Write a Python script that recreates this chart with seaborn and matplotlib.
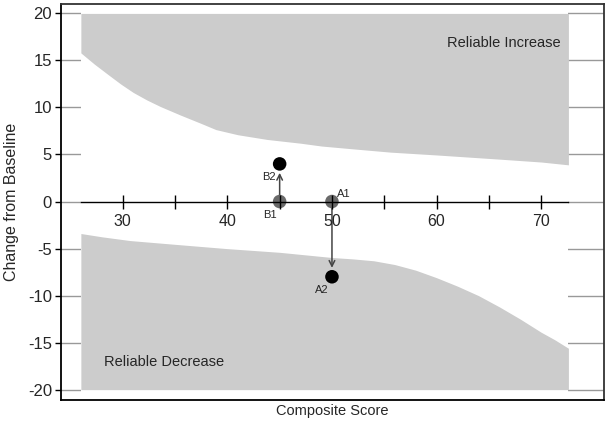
import matplotlib
matplotlib.use('Agg')
import matplotlib.pyplot as plt
import seaborn as sns
import pandas as pd

# bordas das regioes de mudanca confiavel
upper_x = [26, 27.3, 28.6, 29.8, 31, 32.3, 33.6, 35.5, 37.5, 38.9, 41, 43.8, 47, 49, 52, 55.6, 60, 66.1, 70, 72.6]
upper_y = [15.8, 14.6, 13.5, 12.5, 11.6, 10.8, 10.1, 9.2, 8.3, 7.65, 7.1, 6.6, 6.2, 5.9, 5.6, 5.25, 4.95, 4.5, 4.2, 3.9]
lower_x = [26, 28, 30.7, 35, 39.9, 45, 50, 52, 54, 56, 58, 60, 62, 64, 66, 68, 70, 71.3, 72.6]
lower_y = [-3.4, -3.75, -4.15, -4.55, -5.0, -5.4, -5.95, -6.1, -6.3, -6.7, -7.3, -8.1, -9.0, -10.0, -11.2, -12.5, -13.9, -14.7, -15.6]
band_limit = 20

# casos: baseline (1) e seguimento (2)
labels = ['A1', 'A2', 'B1', 'B2']
score = [50, 50, 45, 45]
change = [0, -8, 0, 4]
stage = ['1', '2', '1', '2']

x_ticks = [30, 40, 50, 60, 70]
x_minor = [35, 45, 55, 65]
y_ticks = [-20, -15, -10, -5, 0, 5, 10, 15, 20]

df = pd.DataFrame({'label': labels, 'score': score, 'change': change, 'stage': stage})

sns.set_style('white')
plt.rcParams['font.family'] = ['Liberation Sans', 'DejaVu Sans']

fig = plt.figure(figsize=(6.08, 4.21), dpi=100)
ax = fig.add_axes([0.1003, 0.0499, 0.8931, 0.9406])
ylim = (-21.1, 21)
ax.set_xlim(24.1, 76)
ax.set_ylim(*ylim)

# grade horizontal so fora da faixa de dados
ax.set_axisbelow(True)
ax.grid(axis='y', color='#999999', lw=1)
ax.grid(axis='x', visible=False)
ax.axvspan(upper_x[0], upper_x[-1], color='white', zorder=0.8, lw=0)

ax.fill_between(upper_x, upper_y, band_limit, color='#cccccc', lw=0, zorder=1)
ax.fill_between(lower_x, -band_limit, lower_y, color='#cccccc', lw=0, zorder=1)

sns.scatterplot(data=df, x='score', y='change', hue='stage',
                palette={'1': '#6a6a6a', '2': 'black'}, s=95, linewidth=0,
                legend=False, ax=ax, zorder=3)

# setas de mudanca
for s0, c0, s1, c1 in [(45, 0, 45, 4), (50, 0, 50, -8)]:
    d = 1 if c1 > c0 else -1
    ax.annotate('', xy=(s1, c1 - d * 0.95), xytext=(s0, c0 + d * 0.6),
                arrowprops=dict(arrowstyle='->', color='#444444', lw=1.1,
                                shrinkA=0, shrinkB=0), zorder=2)

ax.text(50.45, 0.85, 'A1', fontsize=8, ha='left', va='center')
ax.text(49.05, -9.45, 'A2', fontsize=8, ha='center', va='center')
ax.text(44.05, -1.45, 'B1', fontsize=8, ha='center', va='center')
ax.text(44.6, 2.6, 'B2', fontsize=8, ha='right', va='center')

ax.text(71.9, 16.85, 'Reliable Increase', fontsize=10.5, ha='right', va='center')
ax.text(28.2, -17.1, 'Reliable Decrease', fontsize=10.5, ha='left', va='center')

# eixo x desenhado na linha do zero
loc = (0 - ylim[0]) / (ylim[1] - ylim[0])
sec = ax.secondary_xaxis(loc)
sec.set_alignment('bottom')
sec.set_xticks(x_ticks)
sec.set_xticks(x_minor, minor=True)
sec.set_xticklabels([str(v) for v in x_ticks])
sec.tick_params(which='both', direction='inout', length=10, width=1,
                color='black', labelsize=11.5, pad=4)
sec.spines['bottom'].set_bounds(upper_x[0], upper_x[-1])
sec.spines['bottom'].set_linewidth(1)
sec.spines['bottom'].set_color('black')
sec.set_zorder(4)

ax.set_xticks([])
ax.set_yticks(y_ticks)
ax.set_yticklabels([str(v) for v in y_ticks])
ax.tick_params(axis='y', direction='out', length=4.5, width=1, color='black',
               labelsize=12, pad=2, left=True)
ax.set_xlabel('Composite Score', fontsize=10.5, labelpad=3)
ax.set_ylabel('Change from Baseline', fontsize=11.5)
ax.yaxis.set_label_coords(-0.078, 0.5)

for side in ['left', 'bottom']:
    ax.spines[side].set_color('black')
    ax.spines[side].set_linewidth(1.3)
for side in ['top', 'right']:
    ax.spines[side].set_color('#333333')
    ax.spines[side].set_linewidth(1.3)

fig.savefig('out.png', dpi=100)
